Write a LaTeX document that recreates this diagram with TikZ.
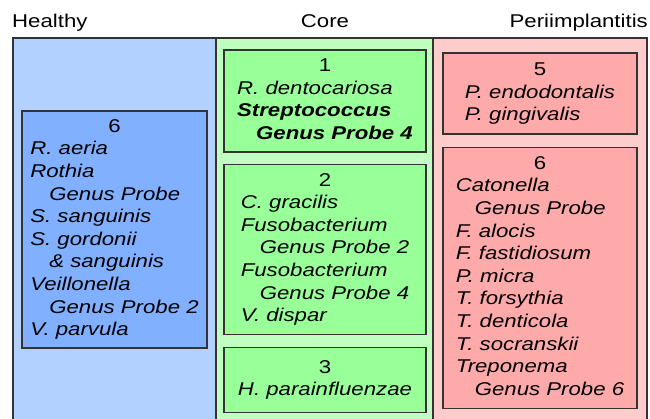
\documentclass[tikz,border=0pt]{standalone}
\usepackage{fontspec}
\setmainfont{Liberation Sans}[FakeStretch=1.2]
\usepackage{array}
\usetikzlibrary{positioning}

\definecolor{edge}{HTML}{333333}
\definecolor{hpanel}{HTML}{B3D1FF}
\definecolor{hbox}{HTML}{80B0FF}
\definecolor{cpanel}{HTML}{C0FFC0}
\definecolor{cbox}{HTML}{99FF99}
\definecolor{ppanel}{HTML}{FFCCCC}
\definecolor{pbox}{HTML}{FFAAAA}
\newcommand{\subline}[1]{\hspace*{19pt}#1}

\begin{document}
\begin{tikzpicture}[x=1pt,y=-1pt,
panel/.style={draw=edge,line width=1.3pt,minimum height=382pt,inner sep=0pt},
group/.style={draw=edge,line width=1.3pt,inner xsep=0pt,inner ysep=2pt,
  font=\fontsize{18.5}{22.6}\selectfont},
head/.style={inner sep=0pt,font=\fontsize{18.5}{22.6}\selectfont}]
\useasboundingbox (0,0) rectangle (650,418);
\node[panel,fill=hpanel,minimum width=203pt] (healthy) at (114.5,229) {};
\node[panel,fill=cpanel,minimum width=217pt] (core) at (324.5,229) {};
\node[panel,fill=ppanel,minimum width=214pt] (perii) at (540,229) {};
\node[head,anchor=base west] (hhead) at (12,27) {Healthy};
\node[head,anchor=base] (chead) at (325,27) {Core};
\node[head,anchor=base east] (phead) at (648,27) {Periimplantitis};

\node[group,fill=hbox,minimum width=185pt,minimum height=237pt] (h6) at (114.5,229.5)
{\begin{tabular}{@{}>{\itshape}l@{}}
\multicolumn{1}{@{}c@{}}{6}\\
R. aeria\\
Rothia\\
\subline{Genus Probe}\\
S. sanguinis\\
S. gordonii\\
\subline{\& sanguinis}\\
Veillonella\\
\subline{Genus Probe 2}\\
V. parvula
\end{tabular}};

\node[group,fill=cbox,minimum width=202pt,minimum height=102pt] (c1) at (325,101)
{\begin{tabular}{@{}>{\itshape}l@{}}
\multicolumn{1}{@{}c@{}}{1}\\
R. dentocariosa\\
\bfseries Streptococcus\\
\bfseries\subline{Genus Probe 4}
\end{tabular}};
\node[group,fill=cbox,minimum width=202pt,minimum height=170pt,below=11pt of c1] (c2)
{\begin{tabular}{@{}>{\itshape}l@{}}
\multicolumn{1}{@{}c@{}}{2}\\
C. gracilis\\
Fusobacterium\\
\subline{Genus Probe 2}\\
Fusobacterium\\
\subline{Genus Probe 4}\\
V. dispar
\end{tabular}};
\node[group,fill=cbox,minimum width=202pt,minimum height=65pt,below=12pt of c2] (c3)
{\begin{tabular}{@{}>{\itshape}l@{}}
\multicolumn{1}{@{}c@{}}{3}\\
H. parainfluenzae
\end{tabular}};

\node[group,fill=pbox,minimum width=194pt,minimum height=81pt] (p5) at (540,93.5)
{\begin{tabular}{@{}>{\itshape}l@{}}
\multicolumn{1}{@{}c@{}}{5}\\
P. endodontalis\\
P. gingivalis
\end{tabular}};
\node[group,fill=pbox,minimum width=194pt,minimum height=261pt,below=12pt of p5] (p6)
{\begin{tabular}{@{}>{\itshape}l@{}}
\multicolumn{1}{@{}c@{}}{6}\\
Catonella\\
\subline{Genus Probe}\\
F. alocis\\
F. fastidiosum\\
P. micra\\
T. forsythia\\
T. denticola\\
T. socranskii\\
Treponema\\
\subline{Genus Probe 6}
\end{tabular}};
\end{tikzpicture}
\end{document}
